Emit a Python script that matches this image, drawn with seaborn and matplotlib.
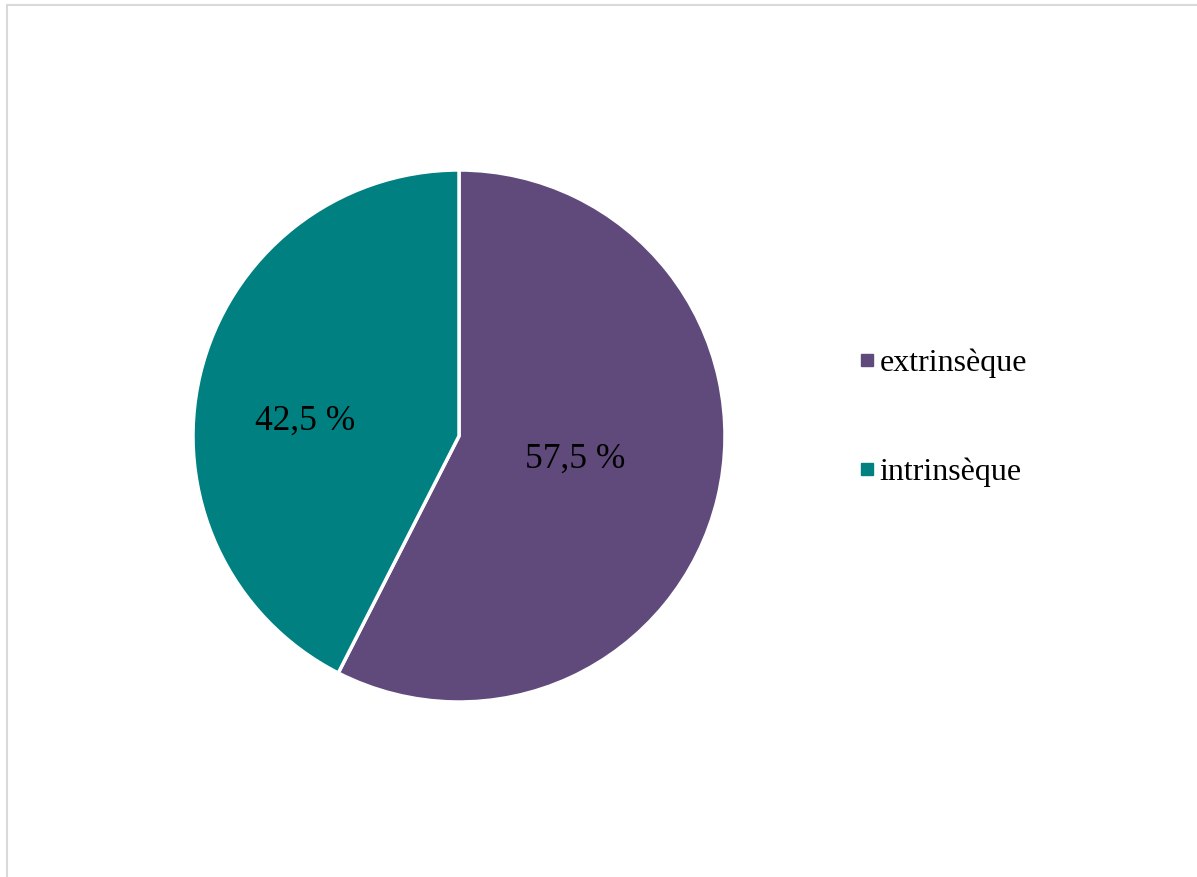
import matplotlib
matplotlib.use("Agg")
import matplotlib.pyplot as plt
from matplotlib.lines import Line2D
import seaborn as sns

# Data
categories = ["extrinsèque", "intrinsèque"]
shares = [57.5, 42.5]
value_labels = ["57,5 %", "42,5 %"]
colors = ["#604A7B", "#008080"]

sns.set_theme(style="white")
plt.rcParams["font.family"] = ["Liberation Serif", "DejaVu Serif"]
plt.rcParams["text.color"] = "black"

W, H = 1197, 877
fig = plt.figure(figsize=(W / 100, H / 100), dpi=100)

# Pie area: centre (459, 436) px, radius 266 px
cx, cy, r = 459, 436, 266
ax = fig.add_axes([(cx - r) / W, (H - cy - r) / H, 2 * r / W, 2 * r / H])
wedges, _ = ax.pie(
    shares,
    colors=colors,
    startangle=90,
    counterclock=False,
    radius=1,
    wedgeprops=dict(edgecolor="white", linewidth=2.5),
)
ax.set_xlim(-1, 1)
ax.set_ylim(-1, 1)
ax.set_aspect("equal")
ax.axis("off")

# Value labels inside the slices
label_pos = [(0.437, -0.087), (-0.58, 0.057)]
for (x, y), txt in zip(label_pos, value_labels):
    ax.text(x, y, txt, ha="center", va="center", fontsize=25.5, color="black")

# Legend with small square keys
handles = [
    Line2D([0], [0], marker="s", linestyle="none", markersize=8,
           markerfacecolor=c, markeredgecolor=c)
    for c in colors
]
fig.legend(
    handles, categories,
    loc="center left",
    bbox_to_anchor=(843 / W, 1 - 418 / H),
    frameon=False,
    fontsize=23,
    handlelength=0.5,
    handletextpad=0.15,
    labelspacing=2.5,
    borderpad=0,
    labelcolor="black",
)

# Light grey frame lines along the top and left edges
fig.add_artist(Line2D([7 / W, 1], [1 - 5 / H, 1 - 5 / H], transform=fig.transFigure,
                      color="#D9D9D9", linewidth=1.5))
fig.add_artist(Line2D([7 / W, 7 / W], [0, 1 - 5 / H], transform=fig.transFigure,
                      color="#D9D9D9", linewidth=1.5))

fig.savefig("out.png", dpi=100, facecolor="white")
